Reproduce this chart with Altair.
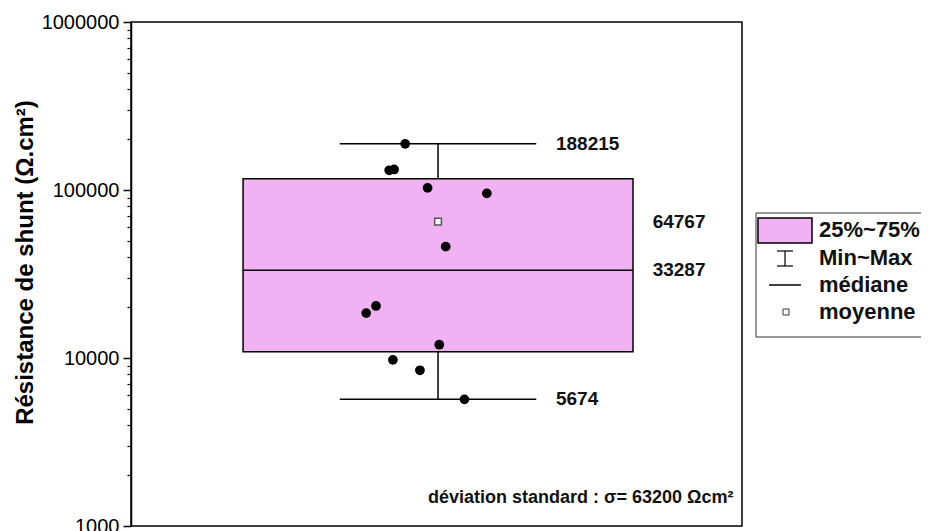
import altair as alt
import pandas as pd

# ---------------- data ----------------
point_x = [0.893, 0.841, 0.857, 0.966, 1.159, 1.025, 0.798, 0.766, 1.004, 0.853, 0.941, 1.086]
point_y = [188215, 131000, 132500, 103000, 95500, 46000, 20400, 18500, 12000, 9750, 8450, 5674]

stat_center = [1.0]
stat_min = [5674]
stat_q1 = [10900]
stat_median = [33287]
stat_mean = [64767]
stat_q3 = [116500]
stat_max = [188215]

label_values = [188215, 64767, 33287, 5674]
label_x = [1.384, 1.699, 1.699, 1.384]
label_text = ["188215", "64767", "33287", "5674"]

note_text = ["déviation standard : σ= 63200 Ωcm²"]
note_x = [1.962]
note_y = [1371]

major_ticks = [1000, 10000, 100000, 1000000]
minor_ticks = [v * m for v in [1000, 10000, 100000] for m in range(2, 10)]

legend_labels = ["25%~75%", "Min~Max", "médiane", "moyenne"]

# ---------------- styling ----------------
FONT = "Liberation Sans, Arial, sans-serif"
PINK = "#F0B2F2"
W, H = 611, 504
BOX_HALF = 0.635
CAP_HALF = 0.32

xs = alt.Scale(domain=[0, 1.99], nice=False, zero=False)
ys = alt.Scale(type="log", domain=[1000, 1000000], nice=False)

stats = pd.DataFrame({
    "c": stat_center, "mn": stat_min, "q1": stat_q1, "med": stat_median,
    "mean": stat_mean, "q3": stat_q3, "mx": stat_max,
})
stats["bl"] = stats["c"] - BOX_HALF
stats["br"] = stats["c"] + BOX_HALF
stats["cl"] = stats["c"] - CAP_HALF
stats["cr"] = stats["c"] + CAP_HALF

pts = pd.DataFrame({"x": point_x, "y": point_y})
labs = pd.DataFrame({"x": label_x, "y": label_values, "t": label_text})
note = pd.DataFrame({"x": note_x, "y": note_y, "t": note_text})
minor = pd.DataFrame({"y": minor_ticks})

major_axis = alt.Axis(
    orient="left", values=major_ticks, format="d", grid=False,
    labelFont=FONT, labelFontSize=20, labelColor="black", labelPadding=4,
    tickSize=8, tickWidth=1.5, tickColor="black",
    domainColor="black", domainWidth=1.5,
    title="Résistance de shunt (Ω.cm²)", titleFont=FONT, titleFontSize=24,
    titleFontWeight="bold", titleColor="black", titleAngle=270,
    titleX=-106, titleY=240, titleAlign="center", titleBaseline="middle",
)
minor_axis = alt.Axis(
    orient="left", values=minor_ticks, labels=False, grid=False, title=None,
    tickSize=4, tickWidth=1.2, tickColor="black", domain=False,
)
x_axis = alt.Axis(
    orient="bottom", values=[1], labels=False, grid=False, title=None,
    tickSize=8, tickWidth=1.5, tickColor="black",
    domainColor="black", domainWidth=1.5,
)

box = alt.Chart(stats).mark_rect(fill=PINK, stroke="black", strokeWidth=1.5).encode(
    x=alt.X("bl:Q", scale=xs, axis=x_axis), x2="br:Q",
    y=alt.Y("q1:Q", scale=ys, axis=major_axis), y2="q3:Q",
)
median = alt.Chart(stats).mark_rule(color="black", strokeWidth=1.5).encode(
    x=alt.X("bl:Q", scale=xs, axis=None), x2="br:Q",
    y=alt.Y("med:Q", scale=ys, axis=None),
)
wlo = alt.Chart(stats).mark_rule(color="black", strokeWidth=1.5).encode(
    x=alt.X("c:Q", scale=xs, axis=None),
    y=alt.Y("mn:Q", scale=ys, axis=None), y2="q1:Q",
)
whi = alt.Chart(stats).mark_rule(color="black", strokeWidth=1.5).encode(
    x=alt.X("c:Q", scale=xs, axis=None),
    y=alt.Y("q3:Q", scale=ys, axis=None), y2="mx:Q",
)
caplo = alt.Chart(stats).mark_rule(color="black", strokeWidth=1.5).encode(
    x=alt.X("cl:Q", scale=xs, axis=None), x2="cr:Q",
    y=alt.Y("mn:Q", scale=ys, axis=None),
)
caphi = alt.Chart(stats).mark_rule(color="black", strokeWidth=1.5).encode(
    x=alt.X("cl:Q", scale=xs, axis=None), x2="cr:Q",
    y=alt.Y("mx:Q", scale=ys, axis=None),
)
dots = alt.Chart(pts).mark_circle(color="black", opacity=1, size=95).encode(
    x=alt.X("x:Q", scale=xs, axis=None),
    y=alt.Y("y:Q", scale=ys, axis=None),
)
mean_pt = alt.Chart(stats).mark_point(
    shape="square", filled=True, fill="white", stroke="#555555",
    strokeWidth=1.5, opacity=1, size=45,
).encode(
    x=alt.X("c:Q", scale=xs, axis=None),
    y=alt.Y("mean:Q", scale=ys, axis=None),
)
labels = alt.Chart(labs).mark_text(
    align="left", baseline="middle", font=FONT, fontSize=19,
    fontWeight="bold", color="#111111",
).encode(
    x=alt.X("x:Q", scale=xs, axis=None),
    y=alt.Y("y:Q", scale=ys, axis=None),
    text="t:N",
)
note_mark = alt.Chart(note).mark_text(
    align="right", baseline="alphabetic", font=FONT, fontSize=18,
    fontWeight="bold", color="#111111",
).encode(
    x=alt.X("x:Q", scale=xs, axis=None),
    y=alt.Y("y:Q", scale=ys, axis=None),
    text="t:N",
)
minor_layer = alt.Chart(minor).mark_point(opacity=0).encode(
    y=alt.Y("y:Q", scale=ys, axis=minor_axis),
)

# ---------------- legend (drawn beside the plot) ----------------
one = pd.DataFrame({"k": [0]})
LX = 688
rows = [208, 236, 263, 290]
legend_layers = [
    alt.Chart(one).mark_rect(fill="white", stroke="#333333", strokeWidth=1).encode(
        x=alt.value(625), x2=alt.value(820), y=alt.value(191), y2=alt.value(315)),
    alt.Chart(one).mark_rect(fill=PINK, stroke="black", strokeWidth=1.5).encode(
        x=alt.value(627), x2=alt.value(681), y=alt.value(196), y2=alt.value(221)),
    alt.Chart(one).mark_rule(color="black", strokeWidth=1.2).encode(
        x=alt.value(654), y=alt.value(229), y2=alt.value(244)),
    alt.Chart(one).mark_rule(color="black", strokeWidth=1.2).encode(
        x=alt.value(646), x2=alt.value(662), y=alt.value(229)),
    alt.Chart(one).mark_rule(color="black", strokeWidth=1.2).encode(
        x=alt.value(646), x2=alt.value(662), y=alt.value(244)),
    alt.Chart(one).mark_rule(color="black", strokeWidth=1.5).encode(
        x=alt.value(638), x2=alt.value(670), y=alt.value(263)),
    alt.Chart(one).mark_point(shape="square", filled=True, fill="white",
                              stroke="#333333", strokeWidth=1, opacity=1, size=36).encode(
        x=alt.value(655), y=alt.value(290)),
]
for lab, ry in zip(legend_labels, rows):
    legend_layers.append(
        alt.Chart(one).mark_text(
            align="left", baseline="middle", font=FONT, fontSize=22,
            fontWeight="bold", color="#111111",
        ).encode(x=alt.value(LX), y=alt.value(ry), text=alt.value(lab))
    )

chart = alt.layer(
    box, median, wlo, whi, caplo, caphi, dots, mean_pt, labels, note_mark,
    minor_layer, *legend_layers,
).resolve_axis(y="independent").properties(
    width=W, height=H,
    padding={"left": 123, "top": 14, "right": 179, "bottom": 20},
    autosize=alt.AutoSizeParams(type="none"),
    background="white",
).configure_view(stroke="black", strokeWidth=1.5)

chart.save("out.html", embed_options={"renderer": "svg", "actions": False})
